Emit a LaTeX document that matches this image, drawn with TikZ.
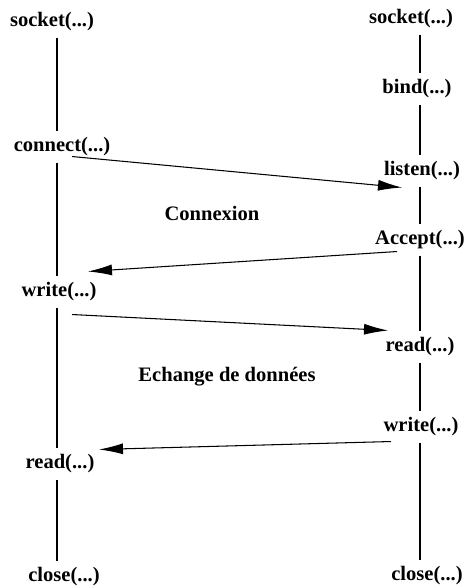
\documentclass[tikz,border=0pt]{standalone}
\usepackage{fontspec}
\setmainfont{Liberation Serif}
\usepackage{tikz}
\usetikzlibrary{arrows.meta, calc}

\begin{document}
\begin{tikzpicture}[
        x=0.02cm, y=-0.02cm,
        call/.style={inner sep=0.333em, align=center, font=\fontsize{11.7}{14}\selectfont\bfseries},
        phase/.style={inner sep=0pt, font=\fontsize{11.7}{14}\selectfont\bfseries},
        lifeline/.style={draw, line width=0.6pt},
        msg/.style={draw, line width=0.6pt, -{Latex[length=0.48cm, width=0.22cm]}}
    ]
        \useasboundingbox (0,0) rectangle (464,588);

        % --- Left: client ---
        \coordinate (lineC) at (57,0);
        \node[call] (sockC)  at (52, 22)  {socket(...)};
        \node[call] (connC)  at (62, 147) {connect(...)};
        \node[call] (writeC) at (59, 292) {write(...)};
        \node[call] (readC)  at (60, 464) {read(...)};
        \node[call] (closeC) at (64, 577) {close(...)};

        \draw[lifeline] (sockC.south -| lineC)  -- (connC.north -| lineC);
        \draw[lifeline] (connC.south -| lineC)  -- (writeC.north -| lineC);
        \draw[lifeline] (writeC.south -| lineC) -- (readC.north -| lineC);
        \draw[lifeline] (readC.south -| lineC)  -- (closeC.north -| lineC);

        % --- Right: server ---
        \coordinate (lineS) at (420,0);
        \node[call] (sockS)   at (411, 19)  {socket(...)};
        \node[call] (bindS)   at (417, 89)  {bind(...)};
        \node[call] (listenS) at (422, 171) {listen(...)};
        \node[call] (acceptS) at (420, 240) {Accept(...)};
        \node[call] (readS)   at (420, 347) {read(...)};
        \node[call] (writeS)  at (421, 427) {write(...)};
        \node[call] (closeS)  at (427, 576) {close(...)};

        \draw[lifeline] (sockS.south -| lineS)   -- (bindS.north -| lineS);
        \draw[lifeline] (bindS.south -| lineS)   -- (listenS.north -| lineS);
        \draw[lifeline] (listenS.south -| lineS) -- (acceptS.north -| lineS);
        \draw[lifeline] (acceptS.south -| lineS) -- (readS.north -| lineS);
        \draw[lifeline] (readS.south -| lineS)   -- (writeS.north -| lineS);
        \draw[lifeline] (writeS.south -| lineS)  -- (closeS.north -| lineS);

        % --- Phases ---
        \node[phase] (conn) at (212, 213) {Connexion};
        \node[phase] (xchg) at (227, 377) {Echange de données};

        % --- Messages ---
        \draw[msg] ($(connC.south)+(10,-6)$)   -- ($(listenS.south)+(-20,1)$);
        \draw[msg] ($(acceptS.south)+(-23,-4)$) -- ($(writeC.north)+(29,-5)$);
        \draw[msg] ($(writeC.south)+(13,7)$)   -- ($(readS.north)+(-32,-1)$);
        \draw[msg] ($(writeS.south)+(-30,-1)$) -- ($(readC.north)+(39,1)$);

    \end{tikzpicture}
\end{document}
